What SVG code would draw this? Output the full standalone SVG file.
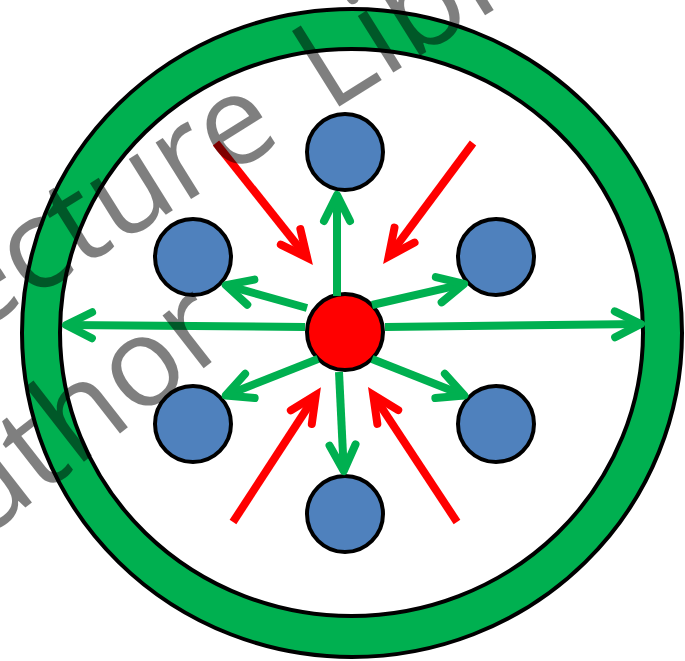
<svg xmlns="http://www.w3.org/2000/svg" width="685" height="661" viewBox="0 0 685 661">
  <style>
    .ring { fill: #00B050; fill-rule: evenodd; stroke: #000; stroke-width: 4; }
    .blue { fill: #4F81BD; stroke: #000; stroke-width: 4; }
    .core { fill: #FF0000; stroke: #000; stroke-width: 4; }
    .g { fill: none; stroke: #00B050; stroke-width: 8; marker-end: url(#gh); }
    .r { fill: none; stroke: #FF0000; stroke-width: 8; marker-end: url(#rh); }
    .wm { font-family: "Open Sans", "DejaVu Sans", sans-serif; font-size: 125px; fill: #000; fill-opacity: 0.5; }
  </style>
  <defs>
    <marker id="gh" markerUnits="userSpaceOnUse" viewBox="-40 -20 50 40" markerWidth="50" markerHeight="40" refX="0" refY="0" orient="auto" overflow="visible">
      <path d="M-26,-13 L0,0 L-26,13" fill="none" stroke="#00B050" stroke-width="8" stroke-linecap="round" stroke-linejoin="round"/>
    </marker>
    <marker id="rh" markerUnits="userSpaceOnUse" viewBox="-40 -20 50 40" markerWidth="50" markerHeight="40" refX="0" refY="0" orient="auto" overflow="visible">
      <path d="M-26.5,-12.5 L0,0 L-26.5,12.5" fill="none" stroke="#FF0000" stroke-width="8" stroke-linecap="round" stroke-linejoin="miter"/>
    </marker>
  </defs>
  <rect width="685" height="661" fill="#fff"/>
  <g id="ring">
    <path class="ring" d="M22,333 A330,324 0 1,0 682,333 A330,324 0 1,0 22,333 Z M60,332.5 A291.5,283.5 0 1,0 643,332.5 A291.5,283.5 0 1,0 60,332.5 Z"/>
  </g>
  <g id="particle-top"><circle class="blue" cx="345" cy="152" r="38"/></g>
  <g id="particle-upper-left"><circle class="blue" cx="193" cy="257" r="38"/></g>
  <g id="particle-upper-right"><circle class="blue" cx="496" cy="257" r="38"/></g>
  <g id="particle-lower-left"><circle class="blue" cx="193" cy="424" r="38"/></g>
  <g id="particle-lower-right"><circle class="blue" cx="496" cy="424" r="38"/></g>
  <g id="particle-bottom"><circle class="blue" cx="345" cy="514" r="38"/></g>
  <g id="center"><circle class="core" cx="345" cy="332" r="38"/></g>
  <g id="connectors">
    <line class="g" x1="337" y1="296" x2="337" y2="195"/>
    <line class="g" x1="339" y1="372" x2="343.8" y2="471"/>
    <line class="g" x1="305" y1="327" x2="66" y2="325"/>
    <line class="g" x1="385" y1="327" x2="641" y2="324"/>
    <line class="g" x1="307" y1="308" x2="225.8" y2="285.1"/>
    <line class="g" x1="372" y1="305" x2="464.1" y2="283.9"/>
    <line class="g" x1="318" y1="359" x2="225.7" y2="395.5"/>
    <line class="g" x1="372" y1="359" x2="464.3" y2="395.5"/>
    <line class="r" x1="216" y1="143" x2="307.1" y2="257.6"/>
    <line class="r" x1="473" y1="143" x2="388.7" y2="256.4"/>
    <line class="r" x1="233" y1="522" x2="315.8" y2="395"/>
    <line class="r" x1="457" y1="522" x2="373.2" y2="394.9"/>
  </g>
  <g id="watermark">
    <g transform="translate(329,112.9) rotate(-32)">
      <text class="wm" x="-52" text-anchor="end">Lecture</text>
      <text class="wm" x="0">Library</text>
    </g>
    <text class="wm" transform="translate(-82.3,591.6) rotate(-38)">Author</text>
  </g>
</svg>
